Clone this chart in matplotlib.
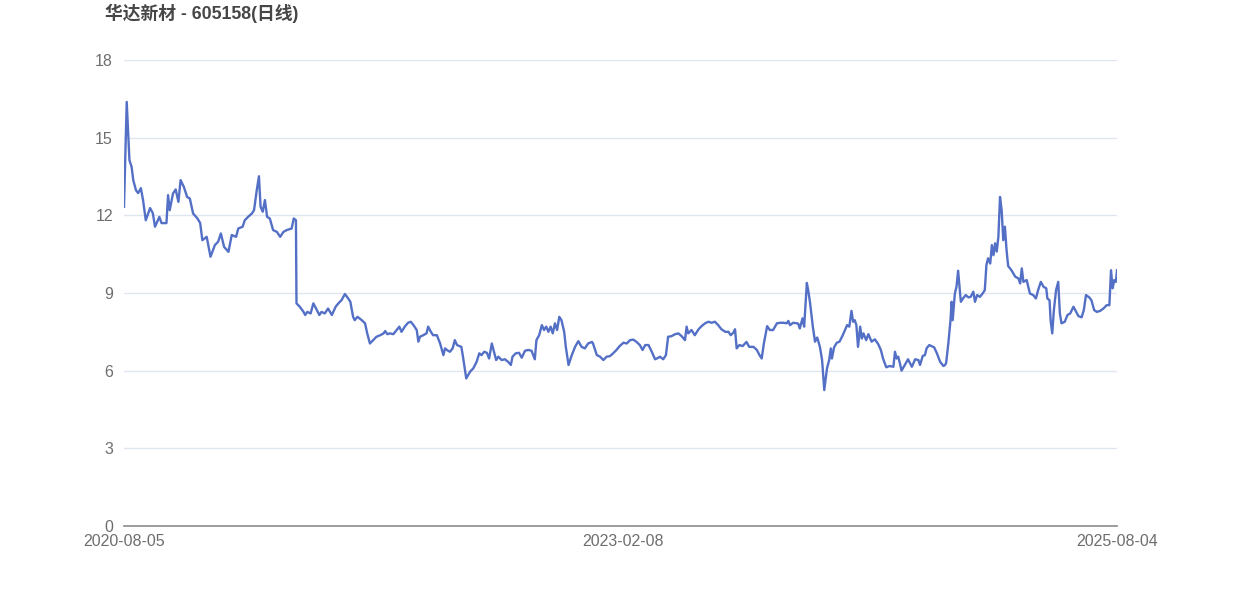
import matplotlib
matplotlib.use("Agg")
import matplotlib.pyplot as plt
import pandas as pd

plt.rcParams['font.family'] = ['Liberation Sans', 'Noto Sans CJK SC', 'DejaVu Sans']

title = "华达新材 - 605158(日线)"
start_date = "2020-08-05"
x_tick_labels = ["2020-08-05", "2023-02-08", "2025-08-04"]
y_ticks = [0, 3, 6, 9, 12, 15, 18]

# calendar days after the start date, and the close price
day_offsets = [
    0, 5, 10, 14, 17, 22, 26, 31, 35, 40, 48, 53, 57, 65, 69, 78, 81, 84, 90, 95,
    100, 104, 110, 116, 121, 127, 135, 140, 144, 152, 159, 167, 173, 178, 184, 192, 198, 206, 210, 218,
    222, 228, 235, 239, 244, 248, 251, 255, 259, 263, 268, 274, 281, 287, 293, 299, 308, 312, 316,
    317, 323, 330, 333, 337, 343, 348, 353, 359, 363, 369, 375, 382, 389, 394, 400, 406, 412, 416, 421,
    424, 429, 437, 443, 447, 452, 458, 464, 471, 477, 480, 484, 489, 495, 501, 506, 510, 516, 522, 527,
    532, 538, 541, 544, 550, 556, 559, 564, 568, 575, 581, 587, 590, 594, 599, 604, 608, 612, 620, 623,
    629, 636, 642, 648, 653, 657, 662, 667, 671, 676, 680, 684, 688, 694, 700, 706, 711, 714, 720, 726,
    731, 737, 743, 749, 755, 758, 763, 768, 772, 776, 780, 784, 788, 792, 796, 800, 804, 809, 812, 817,
    823, 829, 835, 841, 847, 853, 860, 862, 869, 875, 881, 887, 893, 899, 905, 911, 918, 924, 930, 936,
    942, 948, 953, 958, 964, 970, 976, 982, 985, 991, 996, 1000, 1006, 1013, 1019, 1025, 1031, 1034, 1037, 1043,
    1049, 1056, 1062, 1068, 1074, 1080, 1086, 1092, 1098, 1105, 1111, 1115, 1120, 1123, 1126, 1131, 1137, 1144, 1149, 1157,
    1163, 1168, 1172, 1176, 1182, 1187, 1193, 1200, 1206, 1212, 1218, 1221, 1224, 1230, 1239, 1242, 1247, 1250, 1255, 1258,
    1261, 1266, 1270, 1274, 1279, 1283, 1287, 1292, 1296, 1299, 1301, 1305, 1310, 1315, 1321, 1325, 1329, 1333, 1337, 1340,
    1343, 1346, 1349, 1353, 1356, 1359, 1364, 1368, 1374, 1380, 1386, 1391, 1395, 1401, 1407, 1414, 1417, 1420, 1423, 1426,
    1429, 1435, 1441, 1448, 1454, 1460, 1463, 1468, 1472, 1475, 1480, 1484, 1489, 1494, 1500, 1506, 1509, 1511, 1515, 1519,
    1521, 1523, 1527, 1530, 1533, 1538, 1542, 1547, 1552, 1556, 1561, 1564, 1568, 1573, 1578, 1582, 1585, 1588, 1592, 1595,
    1598, 1601, 1604, 1607, 1610, 1613, 1616, 1619, 1622, 1625, 1631, 1638, 1644, 1647, 1650, 1653, 1659, 1665, 1671, 1676,
    1680, 1685, 1690, 1695, 1697, 1701, 1703, 1706, 1709, 1713, 1717, 1720, 1723, 1729, 1734, 1739, 1745, 1750, 1754, 1760,
    1764, 1768, 1774, 1778, 1783, 1788, 1794, 1800, 1806, 1811, 1814, 1817, 1820, 1823, 1825,
]
prices = [
    12.33, 16.38, 14.13, 13.87, 13.36, 12.97, 12.86, 13.05, 12.59, 11.81, 12.28, 12.08, 11.56, 11.94, 11.70, 11.70, 12.78, 12.20, 12.84, 13.00,
    12.52, 13.36, 13.10, 12.71, 12.65, 12.07, 11.88, 11.70, 11.04, 11.17, 10.40, 10.85, 10.98, 11.30, 10.78, 10.59, 11.24, 11.17, 11.49, 11.56,
    11.81, 11.94, 12.07, 12.20, 12.97, 13.51, 12.33, 12.14, 12.59, 11.94, 11.88, 11.43, 11.36, 11.17, 11.36, 11.43, 11.49, 11.88, 11.81,
    8.60, 8.47, 8.27, 8.15, 8.27, 8.21, 8.60, 8.40, 8.15, 8.27, 8.21, 8.40, 8.15, 8.47, 8.60, 8.73, 8.96, 8.79, 8.66, 8.08,
    7.95, 8.08, 7.95, 7.83, 7.44, 7.05, 7.18, 7.31, 7.37, 7.44, 7.53, 7.41, 7.44, 7.41, 7.57, 7.70, 7.50, 7.70, 7.85, 7.89,
    7.76, 7.57, 7.12, 7.31, 7.37, 7.44, 7.70, 7.50, 7.37, 7.37, 7.05, 6.60, 6.86, 6.79, 6.73, 6.86, 7.18, 6.99, 6.92, 6.54,
    5.70, 5.96, 6.09, 6.34, 6.67, 6.60, 6.73, 6.69, 6.47, 7.05, 6.73, 6.41, 6.54, 6.41, 6.44, 6.34, 6.22, 6.54, 6.67, 6.69,
    6.50, 6.77, 6.80, 6.77, 6.44, 7.18, 7.37, 7.76, 7.57, 7.70, 7.50, 7.70, 7.44, 7.83, 7.57, 8.08, 7.95, 7.50, 6.92, 6.22,
    6.60, 6.92, 7.14, 6.92, 6.86, 7.05, 7.11, 7.05, 6.60, 6.54, 6.41, 6.54, 6.56, 6.67, 6.80, 6.95, 7.08, 7.05, 7.18, 7.20,
    7.11, 6.99, 6.80, 6.99, 6.99, 6.73, 6.44, 6.50, 6.54, 6.44, 6.60, 7.31, 7.33, 7.41, 7.44, 7.33, 7.18, 7.70, 7.44, 7.57,
    7.37, 7.60, 7.73, 7.83, 7.89, 7.85, 7.89, 7.76, 7.60, 7.50, 7.50, 7.37, 7.47, 7.60, 6.86, 6.99, 6.95, 7.11, 6.92, 6.92,
    6.80, 6.60, 6.47, 7.05, 7.72, 7.57, 7.57, 7.83, 7.85, 7.85, 7.83, 7.92, 7.76, 7.85, 7.82, 7.63, 8.02, 7.70, 9.39, 9.04,
    8.60, 7.70, 7.12, 7.28, 6.92, 6.41, 5.25, 6.09, 6.41, 6.86, 6.47, 6.90, 7.08, 7.12, 7.37, 7.57, 7.76, 7.70, 8.31, 7.89,
    7.95, 7.76, 6.92, 7.70, 7.24, 7.44, 7.18, 7.41, 7.12, 7.21, 7.03, 6.80, 6.47, 6.13, 6.18, 6.15, 6.73, 6.47, 6.54, 6.28,
    6.00, 6.22, 6.44, 6.15, 6.44, 6.41, 6.22, 6.57, 6.60, 6.86, 6.99, 6.95, 6.90, 6.67, 6.34, 6.18, 6.22, 6.30, 7.05, 7.95,
    8.66, 7.95, 8.98, 9.24, 9.86, 8.66, 8.79, 8.92, 8.83, 8.85, 9.05, 8.66, 8.92, 8.85, 8.98, 9.11, 10.08, 10.34, 10.14, 10.85,
    10.46, 10.92, 10.60, 11.17, 12.71, 12.20, 11.04, 11.56, 10.66, 10.04, 9.88, 9.63, 9.56, 9.37, 9.95, 9.43, 9.50, 8.98, 8.92, 8.79,
    9.11, 9.43, 9.24, 9.18, 8.79, 8.72, 7.95, 7.44, 8.34, 9.11, 9.43, 8.21, 7.83, 7.89, 8.15, 8.21, 8.47, 8.27, 8.11, 8.06,
    8.34, 8.92, 8.83, 8.72, 8.34, 8.27, 8.31, 8.40, 8.53, 8.53, 9.88, 9.18, 9.50, 9.43, 9.88,
]

dates = pd.Timestamp(start_date) + pd.to_timedelta(day_offsets, unit="D")
tick_dates = pd.to_datetime(x_tick_labels)

fig = plt.figure(figsize=(12.42, 5.96), dpi=100)
ax = fig.add_axes([124 / 1242, 70 / 596, 993 / 1242, 466 / 596])

ax.plot(dates, prices, color="#5470C6", linewidth=1.7, solid_joinstyle="round", zorder=3)

ax.set_ylim(0, 18)
ax.set_xlim(dates[0], dates[-1])
ax.set_yticks(y_ticks)
ax.set_xticks(tick_dates)
ax.set_xticklabels(x_tick_labels)

for s in ["top", "right", "left"]:
    ax.spines[s].set_visible(False)
ax.spines["bottom"].set_color("#8C8C8C")
ax.spines["bottom"].set_linewidth(1.2)

ax.grid(axis="y", color="#E0E6F1", linewidth=1.0, zorder=0)
ax.set_axisbelow(True)
ax.tick_params(axis="y", length=0, pad=8, labelsize=11.5, labelcolor="#6E6E6E")
ax.tick_params(axis="x", length=0, pad=6, labelsize=11.5, labelcolor="#6E6E6E")

fig.text(105 / 1242, 1 - 13 / 596, title, fontsize=12.8, fontweight="bold",
         color="#464646", ha="left", va="center")

fig.savefig("out.png", dpi=100)
